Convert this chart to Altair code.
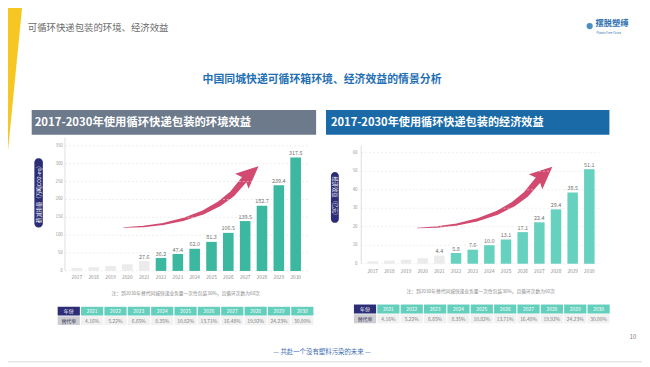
import altair as alt
import pandas as pd

# ---------------- data ----------------
years = [str(y) for y in range(2017, 2031)]
env_values = [8.3, 10.7, 13.8, 18.6, 27.6, 36.2, 47.4, 62.0, 81.3, 106.5, 139.5, 182.7, 239.4, 317.5]
eco_values = [1.3, 1.7, 2.2, 3.0, 4.4, 5.8, 7.6, 10.0, 13.1, 17.1, 22.4, 29.4, 38.5, 51.1]
first_labeled = "2021"
first_colored = "2022"
env_ticks = [0, 50, 100, 150, 200, 250, 300, 350]
eco_ticks = [0, 10, 20, 30, 40, 50, 60]
table_years = [str(y) for y in range(2021, 2031)]
table_rates = ["4.16%", "5.22%", "6.65%", "8.35%", "10.82%", "13.71%", "16.48%", "19.92%", "24.23%", "30.00%"]

page_title = "可循环快递包装的环境、经济效益"
main_title = "中国同城快递可循环箱环境、经济效益的情景分析"
env_header = "2017-2030年使用循环快递包装的环境效益"
eco_header = "2017-2030年使用循环快递包装的经济效益"
env_ylabel = "碳减排量（万吨CO2-eq）"
eco_ylabel = "经济效益（亿元）"
note_text = "注：到2030年替代同城快递业务量一次性包装30%，且循环次数为60次"
footer_text = "— 共赴一个没有塑料污染的未来 —"
page_no = "10"

FONT = "Noto Sans CJK SC"
ONE = pd.DataFrame({"t": [""]})


def v(p):
    # reference-picture coordinate -> chart pixel (page margin 8px)
    return alt.value(p - 8)


def txt(s, x, y, **kw):
    kw.setdefault("font", FONT)
    return alt.Chart(pd.DataFrame({"t": [s]})).mark_text(**kw).encode(
        x=v(x), y=v(y), text="t:N")


def box(x1, y1, x2, y2, color, **kw):
    return alt.Chart(ONE).mark_rect(color=color, **kw).encode(
        x=v(x1), x2=v(x2), y=v(y1), y2=v(y2))


def rule(x1, y1, x2, y2, color, **kw):
    return alt.Chart(ONE).mark_rule(color=color, **kw).encode(
        x=v(x1), x2=v(x2), y=v(y1), y2=v(y2))


PX = alt.Scale(domain=[8, 650], range=[0, 642], nice=False, zero=False)
PY = alt.Scale(domain=[8, 367], range=[0, 359], nice=False, zero=False)


def arrow(dx, dy):
    ax = [125, 145, 165, 185, 205, 222, 235, 248.5]
    ay = [228, 227, 224.5, 220, 213, 204, 194, 178]
    aw = [0.5, 1.3, 2.2, 3.1, 4.0, 5.0, 6.0, 7.0]
    body = alt.Chart(pd.DataFrame({"x": [a + dx for a in ax], "y": [a + dy for a in ay], "w": aw})).mark_trail(
        color="#d24a70").encode(
        x=alt.X("x:Q", scale=PX, axis=None),
        y=alt.Y("y:Q", scale=PY, axis=None),
        size=alt.Size("w:Q", scale=None, legend=None))
    head = alt.Chart(pd.DataFrame({"x": [252.8 + dx], "y": [174 + dy]})).mark_point(
        shape="M0,-1L0.85,0.9L0,0.55L-0.85,0.9Z", filled=True, opacity=1,
        color="#d24a70", size=576, angle=48).encode(
        x=alt.X("x:Q", scale=PX, axis=None),
        y=alt.Y("y:Q", scale=PY, axis=None))
    return [body, head]


stripe = alt.Chart(pd.DataFrame({"x": [8, 22], "y": [150, 8]})).mark_area(color="#f6c623").encode(
    x=alt.X("x:Q", scale=PX, axis=None),
    y=alt.Y("y:Q", scale=PY, axis=None),
    y2=alt.value(0))

pixel_layer = alt.layer(stripe, *arrow(0, 0), *arrow(297.5, 0.5))


def bar_panel(values, ticks, dmax, x_left, x_right, y0, ytop, grid_x2, axis_x, axis_top,
              label_x, year_y, color):
    df = pd.DataFrame({
        "year": years,
        "value": values,
        "fill": ["#ebebeb" if y < first_colored else color for y in years],
        "label": [f"{val:.1f}" if y >= first_labeled else "" for y, val in zip(years, values)],
    })
    tdf = pd.DataFrame({"tick": ticks})
    xs = alt.Scale(domain=years, range=[x_left - 8, x_right - 8], paddingInner=0.37, paddingOuter=0.185)
    ys = alt.Scale(domain=[0, dmax], range=[y0 - 8, ytop - 8], nice=False, zero=True)
    X = alt.X("year:O", scale=xs, axis=None)
    grid = alt.Chart(tdf).mark_rule(color="#e2e2e2", strokeDash=[2, 2], strokeWidth=0.6).encode(
        y=alt.Y("tick:Q", scale=ys, axis=None), x=v(axis_x), x2=v(grid_x2))
    tlab = alt.Chart(tdf).mark_text(align="right", baseline="middle", fontSize=4.5, color="#9a9a9a",
                                    font=FONT).encode(
        y=alt.Y("tick:Q", scale=ys, axis=None), x=v(label_x), text="tick:Q")
    axline = rule(axis_x, axis_top, axis_x, y0, "#cfcfcf", strokeWidth=0.7)
    bars = alt.Chart(df).mark_bar().encode(
        x=X, y=alt.Y("value:Q", scale=ys, axis=None), color=alt.Color("fill:N", scale=None))
    vlab = alt.Chart(df).mark_text(baseline="bottom", dy=-1.5, fontSize=5.5, color="#707070",
                                   font=FONT).encode(
        x=X, y=alt.Y("value:Q", scale=ys, axis=None), text="label:N")
    ylab = alt.Chart(df).mark_text(baseline="middle", fontSize=4.8, color="#8a8a8a", font=FONT).encode(
        x=X, y=v(year_y), text="year:N")
    return alt.layer(grid, tlab, axline, bars, vlab, ylab)


def table(x_left, x_right, y_top, y_bot):
    cols = ["年份"] + table_years
    rows = ["r1", "r2"]
    recs = []
    for i, c in enumerate(cols):
        recs.append({"col": c, "row": "r1", "t": c,
                     "fill": "#2b2d76" if i == 0 else "#64cfbc", "tc": "#ffffff"})
        recs.append({"col": c, "row": "r2", "t": "替代率" if i == 0 else table_rates[i - 1],
                     "fill": "#cdcdd2" if i == 0 else "#f1f1f1",
                     "tc": "#3c3c5a" if i == 0 else "#808080"})
    df = pd.DataFrame(recs)
    xs = alt.Scale(domain=cols, range=[x_left - 8, x_right - 8], paddingInner=0.05, paddingOuter=0)
    ys = alt.Scale(domain=rows, range=[y_top - 8, y_bot - 8], paddingInner=0.08, paddingOuter=0)
    X = alt.X("col:N", scale=xs, axis=None)
    Y = alt.Y("row:N", scale=ys, axis=None)
    cells = alt.Chart(df).mark_rect().encode(x=X, y=Y, color=alt.Color("fill:N", scale=None))
    texts = alt.Chart(df).mark_text(fontSize=5, font=FONT, baseline="middle").encode(
        x=X, y=Y, text="t:N", color=alt.Color("tc:N", scale=None))
    return alt.layer(cells, texts)


left = bar_panel(env_values, env_ticks, 350, 69.2, 307.8, 272, 145.3, 312, 65.7, 137, 63.5, 279, "#3db8a0")
right = bar_panel(eco_values, eco_ticks, 60, 368.9, 605.1, 264.7, 152.3, 607, 365.7, 145, 362, 272.7, "#66d1be")

left_table = table(58.3, 317.3, 308.3, 326.7)
right_table = table(358.3, 617.3, 306, 325)

deco = [
    txt(page_title, 28, 26, fontSize=9.5, color="#6a6a6a", align="left", baseline="middle"),
    alt.Chart(ONE).mark_point(filled=True, color="#4a8fbf", size=40, opacity=1).encode(x=v(597), y=v(24)),
    txt("摆脱塑缚", 603, 22, fontSize=8.3, color="#2d6fae", align="left", baseline="middle", fontWeight="bold"),
    txt("Plastic Free China", 604, 31, fontSize=3.0, color="#2d6fae", align="left", baseline="middle"),
    txt(main_title, 326, 79, fontSize=11, color="#1f6fb4", fontWeight="bold", baseline="middle"),
    box(32, 109, 320, 134, "#6c7a8c"),
    box(330, 109, 617, 134, "#1a6aa8"),
    txt(env_header, 35, 122, fontSize=11.5, color="#ffffff", fontWeight="bold", align="left", baseline="middle"),
    txt(eco_header, 335, 122, fontSize=11.3, color="#ffffff", fontWeight="bold", align="left", baseline="middle"),
    box(34.7, 158, 43.3, 228, "#2b2d76", cornerRadius=4),
    txt(env_ylabel, 39, 193, fontSize=5.3, color="#ffffff", angle=270, baseline="middle"),
    box(335, 171.7, 343, 223.3, "#2b2d76", cornerRadius=4),
    txt(eco_ylabel, 339, 197.5, fontSize=5.3, color="#ffffff", angle=90, baseline="middle"),
    txt(note_text, 188, 295.7, fontSize=4.8, color="#8a8a8a", baseline="middle"),
    txt(note_text, 486.7, 293.3, fontSize=4.8, color="#8a8a8a", baseline="middle"),
    txt(footer_text, 326, 354, fontSize=6.5, color="#3c6eb4", baseline="middle"),
    rule(8, 364, 650, 364, "#d9d9d9", strokeWidth=1),
    txt(page_no, 641, 339, fontSize=6, color="#7a7a7a", baseline="middle"),
]

chart = alt.layer(
    pixel_layer, *deco, left, right, left_table, right_table
).resolve_scale(
    x="independent", y="independent", color="independent", size="independent"
).properties(
    width=642, height=359, padding=0, autosize=alt.AutoSizeParams(type="none"),
    background="#ffffff"
).configure_view(stroke=None)

chart.save("out.html", embed_options={"renderer": "svg", "actions": False})
